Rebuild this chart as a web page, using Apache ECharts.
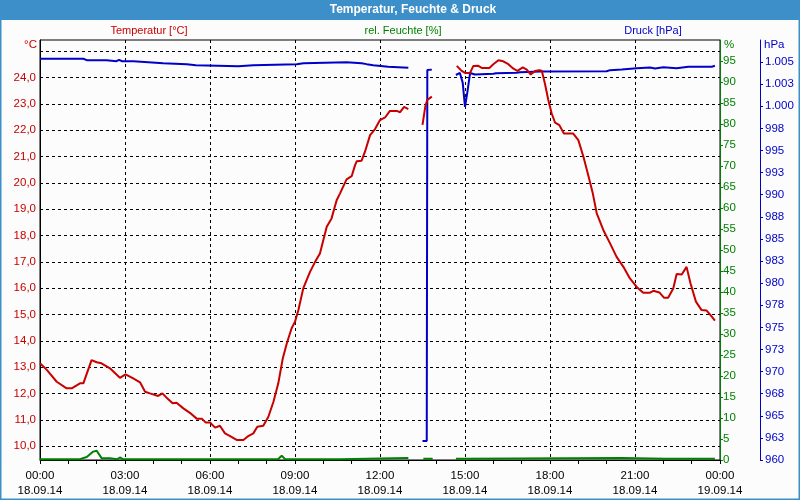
<!DOCTYPE html>
<html>
<head>
<meta charset="utf-8">
<script src="https://cdn.jsdelivr.net/npm/echarts@6/dist/echarts.min.js"></script>
<style>
html,body{margin:0;padding:0;background:#fbfcfb;}
#chart{width:800px;height:500px;}
</style>
</head>
<body>
<div id="chart"></div>
<script>
// ---- data (hours since 18.09.14 00:00) ----
var tempTimes = [0,0.24,0.59,0.94,1.12,1.41,1.53,1.82,2.0,2.17,2.47,2.82,3.02,3.29,3.53,3.71,3.88,4.17,4.32,4.49,4.68,4.82,5.06,5.29,5.53,5.71,5.85,6.0,6.18,6.35,6.53,6.71,6.94,7.18,7.35,7.53,7.67,7.88,8.06,8.24,8.41,8.57,8.71,8.88,9.0,9.12,9.29,9.53,9.71,9.88,10.12,10.29,10.47,10.59,10.82,11.0,11.12,11.18,11.35,11.47,11.65,11.82,12.0,12.18,12.35,12.59,12.71,12.85,13.0,13.25,13.5,13.6,13.67,13.83,14.3,14.71,14.88,15.0,15.18,15.29,15.47,15.59,15.86,16.0,16.18,16.35,16.53,16.71,16.85,17.04,17.18,17.32,17.47,17.62,17.71,17.82,17.94,18.06,18.18,18.33,18.49,18.82,19.0,19.18,19.35,19.51,19.65,19.88,20.12,20.35,20.59,20.82,21.06,21.29,21.53,21.65,21.86,22.02,22.17,22.35,22.47,22.65,22.82,22.96,23.15,23.35,23.53,23.71,23.82];
var tempValues = [13.15,12.9,12.45,12.2,12.2,12.39,12.39,13.27,13.19,13.15,12.96,12.6,12.73,12.58,12.43,12.07,12.01,11.91,12.01,11.82,11.63,11.65,11.44,11.27,11.05,11.05,10.9,10.9,10.71,10.78,10.49,10.39,10.24,10.24,10.39,10.49,10.74,10.78,11.12,11.69,12.39,13.34,13.9,14.48,14.73,15.17,15.99,16.62,17.0,17.32,18.33,18.65,19.34,19.6,20.13,20.25,20.67,20.82,20.84,21.18,21.81,22.03,22.38,22.48,22.73,22.73,22.68,22.88,22.8,null,22.2,22.9,23.15,23.27,null,24.44,24.25,24.17,24.17,24.43,24.44,24.36,24.36,24.5,24.65,24.61,24.5,24.33,24.25,24.38,24.3,24.11,24.24,24.27,24.25,23.77,23.14,22.63,22.28,22.19,21.87,21.87,21.62,20.99,20.29,19.6,18.84,18.21,17.7,17.19,16.81,16.37,16.05,15.83,15.83,15.9,15.84,15.64,15.64,15.99,16.54,16.52,16.81,16.18,15.49,15.17,15.15,14.92,14.77];

var pressTimes = [0,1.53,1.59,1.65,2.35,2.4,2.7,2.79,2.9,3.3,3.35,3.82,3.88,4.35,4.41,5.18,5.24,5.5,5.56,7.0,7.06,7.53,7.59,9.06,9.12,9.3,9.35,10.82,10.88,11.35,11.41,11.53,11.59,11.76,11.82,12.29,12.35,13.0,13.25,13.5,13.65,13.67,13.83,14.3,14.68,14.82,14.92,15.0,15.08,15.18,15.35,16.0,16.1,16.82,16.94,17.65,20.0,20.12,20.53,21.06,21.53,21.71,22.0,22.47,22.88,23.71,23.76,23.82];
var pressValues = [1005.38,1005.38,1005.5,1005.22,1005.22,1005.1,1005.1,1005.26,1005.1,1005.1,1004.99,1004.99,1004.88,1004.88,1004.77,1004.77,1004.65,1004.65,1004.54,1004.54,1004.65,1004.65,1004.77,1004.77,1004.88,1004.88,1004.99,1004.99,1004.88,1004.88,1004.77,1004.77,1004.65,1004.65,1004.47,1004.47,1004.35,1004.35,null,962.15,962.15,1004.1,1004.15,null,1003.54,1003.77,1002.66,999.94,1001.53,1003.77,1003.6,1003.68,1003.75,1003.79,1003.86,1003.94,1003.97,1004.09,1004.17,1004.31,1004.39,1004.28,1004.43,1004.31,1004.47,1004.47,1004.58,1004.58];

var humTimes = [0,1.41,1.47,1.65,1.88,2.0,2.18,2.47,2.53,2.73,2.82,2.92,8.4,8.53,8.65,10.6,10.65,13.0,13.25,13.53,13.86,14.3,14.68,15.0,15.02,20.53,20.55,22.05,22.1,22.2,22.75,22.8,22.9,23.82];
var humValues = [0.2,0.2,0.6,0.7,2.0,2.2,0.4,0.4,0.2,0.2,0.6,0.2,0.2,1.0,0.2,0.2,0.45,0.45,null,0.3,0.3,null,0.3,0.3,0.45,0.45,0.3,0.3,0.5,0.3,0.3,0.5,0.3,0.3];

var xTickHours = [0,3,6,9,12,15,18,21,24];
var xTickDates = ['18.09.14','18.09.14','18.09.14','18.09.14','18.09.14','18.09.14','18.09.14','18.09.14','19.09.14'];
var tempTicks = [10,11,12,13,14,15,16,17,18,19,20,21,22,23,24,25];

var titleText = 'Temperatur, Feuchte & Druck';
var seriesNames = ['Temperatur [°C]', 'rel. Feuchte [%]', 'Druck [hPa]'];
var unitNames = ['°C', '%', 'hPa'];

// ---- build ----
function zip(ts, vs){ var out=[]; for(var i=0;i<ts.length;i++){ out.push([ts[i], vs[i]===null?'-':vs[i]]); } return out; }
var RED='#c80000', GREEN='#008000', BLUE='#0000c8';
var FONT='Liberation Sans';
var FS=11.5;
var dashed = {type:[3,3], color:'#000', width:1};

var chart = echarts.init(document.getElementById('chart'), null, {renderer:'canvas'});
chart.setOption({
  animation:false,
  backgroundColor:'#fbfcfb',
  textStyle:{fontFamily:FONT},
  grid:{left:40, right:80, top:40, bottom:40, show:true, borderColor:'#000', borderWidth:1, backgroundColor:'transparent'},
  graphic:[
    {type:'rect', shape:{x:0.5,y:0.5,width:799,height:499}, style:{fill:null, stroke:'#3c8fc8', lineWidth:2}, z:100, silent:true},
    {type:'rect', shape:{x:0,y:0,width:800,height:20}, style:{fill:'#3c8fc8'}, z:100, silent:true},
    {type:'text', x:413, y:10, style:{text:titleText, fill:'#fff', font:'bold 12px '+FONT, align:'center', verticalAlign:'middle'}, z:101},
    {type:'text', x:149, y:31, style:{text:seriesNames[0], fill:RED, font:'11px '+FONT, align:'center', verticalAlign:'middle'}, z:101},
    {type:'text', x:403, y:31, style:{text:seriesNames[1], fill:GREEN, font:'11px '+FONT, align:'center', verticalAlign:'middle'}, z:101},
    {type:'text', x:653, y:31, style:{text:seriesNames[2], fill:BLUE, font:'11px '+FONT, align:'center', verticalAlign:'middle'}, z:101},
    {type:'text', x:37, y:45, style:{text:unitNames[0], fill:RED, font:FS+'px '+FONT, align:'right', verticalAlign:'middle'}, z:101},
    {type:'text', x:724, y:45, style:{text:unitNames[1], fill:GREEN, font:FS+'px '+FONT, align:'left', verticalAlign:'middle'}, z:101},
    {type:'text', x:764, y:45, style:{text:unitNames[2], fill:BLUE, font:FS+'px '+FONT, align:'left', verticalAlign:'middle'}, z:101}
  ],
  xAxis:{
    type:'value', min:0, max:24, interval:3,
    axisLine:{show:true, lineStyle:{color:'#000', width:1}},
    axisTick:{show:true, inside:false, length:4, lineStyle:{color:'#000'}},
    minorTick:{show:true, splitNumber:3, length:4, lineStyle:{color:'#000'}},
    splitLine:{show:true, lineStyle:dashed},
    axisLabel:{
      color:'#000', fontSize:FS, fontFamily:FONT, margin:8, lineHeight:15,
      formatter:function(v){
        var i = xTickHours.indexOf(v);
        var h = v % 24; var hh = (h<10?'0':'')+h+':00';
        return hh + '\n' + (i>=0 ? xTickDates[i] : '');
      }
    }
  },
  yAxis:[
    {
      type:'value', position:'left', min:9.48, max:25.42,
      axisLine:{show:true, lineStyle:{color:'#000'}},
      axisTick:{show:false, customValues:tempTicks},
      splitLine:{show:true, lineStyle:dashed},
      axisLabel:{color:RED, fontSize:FS, fontFamily:FONT, margin:4, customValues:tempTicks.slice(0, tempTicks.length-1),
        formatter:function(v){ return v.toFixed(1).replace('.', ','); }}
    },
    {
      type:'value', position:'right', min:0, max:100, interval:5,
      axisLine:{show:true, lineStyle:{color:GREEN}},
      axisTick:{show:true, inside:false, length:3, lineStyle:{color:GREEN}},
      splitLine:{show:false},
      axisLabel:{color:GREEN, fontSize:FS, fontFamily:FONT, margin:3, showMaxLabel:false}
    },
    {
      type:'value', position:'right', offset:40, min:960, max:1007.5, interval:2.5,
      axisLine:{show:true, lineStyle:{color:BLUE}},
      axisTick:{show:true, inside:false, length:3, lineStyle:{color:BLUE}},
      splitLine:{show:false},
      axisLabel:{color:BLUE, fontSize:FS, fontFamily:FONT, margin:5, showMaxLabel:false,
        formatter:function(v){ var r=Math.round(v); return r>=1000 ? Math.floor(r/1000)+'.'+String(r%1000).padStart(3,'0') : String(r); }}
    }
  ],
  series:[
    {name:seriesNames[1], type:'line', yAxisIndex:1, data:zip(humTimes, humValues), showSymbol:false, symbol:'none', connectNulls:false, lineStyle:{color:GREEN, width:2}, z:3},
    {name:seriesNames[2], type:'line', yAxisIndex:2, data:zip(pressTimes, pressValues), showSymbol:false, symbol:'none', connectNulls:false, lineStyle:{color:BLUE, width:2}, z:4},
    {name:seriesNames[0], type:'line', yAxisIndex:0, data:zip(tempTimes, tempValues), showSymbol:false, symbol:'none', connectNulls:false, lineStyle:{color:RED, width:2}, z:5}
  ]
});
</script>
</body>
</html>
